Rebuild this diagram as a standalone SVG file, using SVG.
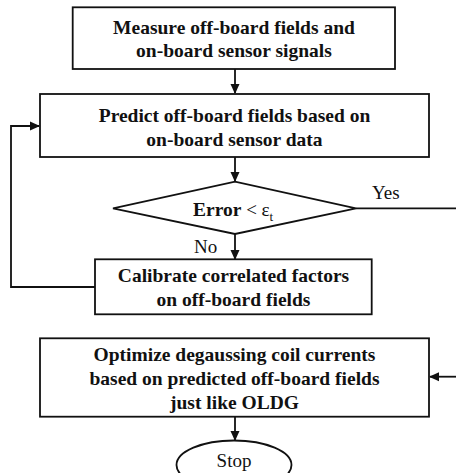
<svg xmlns="http://www.w3.org/2000/svg" width="456" height="473" viewBox="0 0 456 473">
<style>
.box{fill:#fff;stroke:#111;stroke-width:1.8}
.t{font-family:'Liberation Serif',serif;font-size:19.5px;font-weight:bold;fill:#111;text-anchor:middle}
.l{font-family:'Liberation Serif',serif;font-size:19px;fill:#111}
.c{fill:none;stroke:#111;stroke-width:1.8}
</style>
<defs>
<marker id="ah" markerWidth="10" markerHeight="10" refX="9" refY="5" orient="auto" markerUnits="userSpaceOnUse">
<path d="M0,0.5 L10,5 L0,9.5 Z" fill="#111"/>
</marker>
</defs>
<rect width="456" height="473" fill="#fff"/>
<g id="connectors">
<line class="c" x1="235" y1="69" x2="235" y2="93" marker-end="url(#ah)"/>
<line class="c" x1="235" y1="157" x2="235" y2="181" marker-end="url(#ah)"/>
<line class="c" x1="235" y1="234" x2="235" y2="259" marker-end="url(#ah)"/>
<polyline class="c" points="95,287 11,287 11,126 39,126" marker-end="url(#ah)"/>
<line class="c" x1="356" y1="208.3" x2="456" y2="208.3"/>
<line class="c" x1="456" y1="376.7" x2="430" y2="376.7" marker-end="url(#ah)"/>
<line class="c" x1="235" y1="417" x2="235" y2="440" marker-end="url(#ah)"/>
<text class="l" x="372" y="199">Yes</text>
<text class="l" x="194" y="253">No</text>
</g>
<g id="measure">
<rect class="box" x="72.7" y="7.3" width="322.3" height="61.7"/>
<text class="t" x="234" y="33.5">Measure off-board fields and</text>
<text class="t" x="234" y="57">on-board sensor signals</text>
</g>
<g id="predict">
<rect class="box" x="40" y="94" width="389" height="63"/>
<text class="t" x="234.5" y="121.5">Predict off-board fields based on</text>
<text class="t" x="234.5" y="145.5">on-board sensor data</text>
</g>
<g id="decision">
<polygon class="box" points="113,208.3 235,181.7 356,208.3 235,234"/>
<text class="l" x="193" y="216"><tspan font-weight="bold" font-size="19.5">Error</tspan> &lt; ε<tspan font-size="13" dy="5">t</tspan></text>
</g>
<g id="calibrate">
<rect class="box" x="95" y="259.3" width="276.7" height="55"/>
<text class="t" x="233.5" y="281.5">Calibrate correlated factors</text>
<text class="t" x="233.5" y="305.5">on off-board fields</text>
</g>
<g id="optimize">
<rect class="box" x="40" y="338.3" width="389" height="78.4"/>
<text class="t" x="234.5" y="360.5">Optimize degaussing coil currents</text>
<text class="t" x="234.5" y="384.5">based on predicted off-board fields</text>
<text class="t" x="234.5" y="408.5">just like OLDG</text>
</g>
<g id="stop">
<ellipse class="box" cx="234" cy="465" rx="57.5" ry="24.5"/>
<text class="l" x="234" y="467" text-anchor="middle" font-size="19.5">Stop</text>
</g>
</svg>
